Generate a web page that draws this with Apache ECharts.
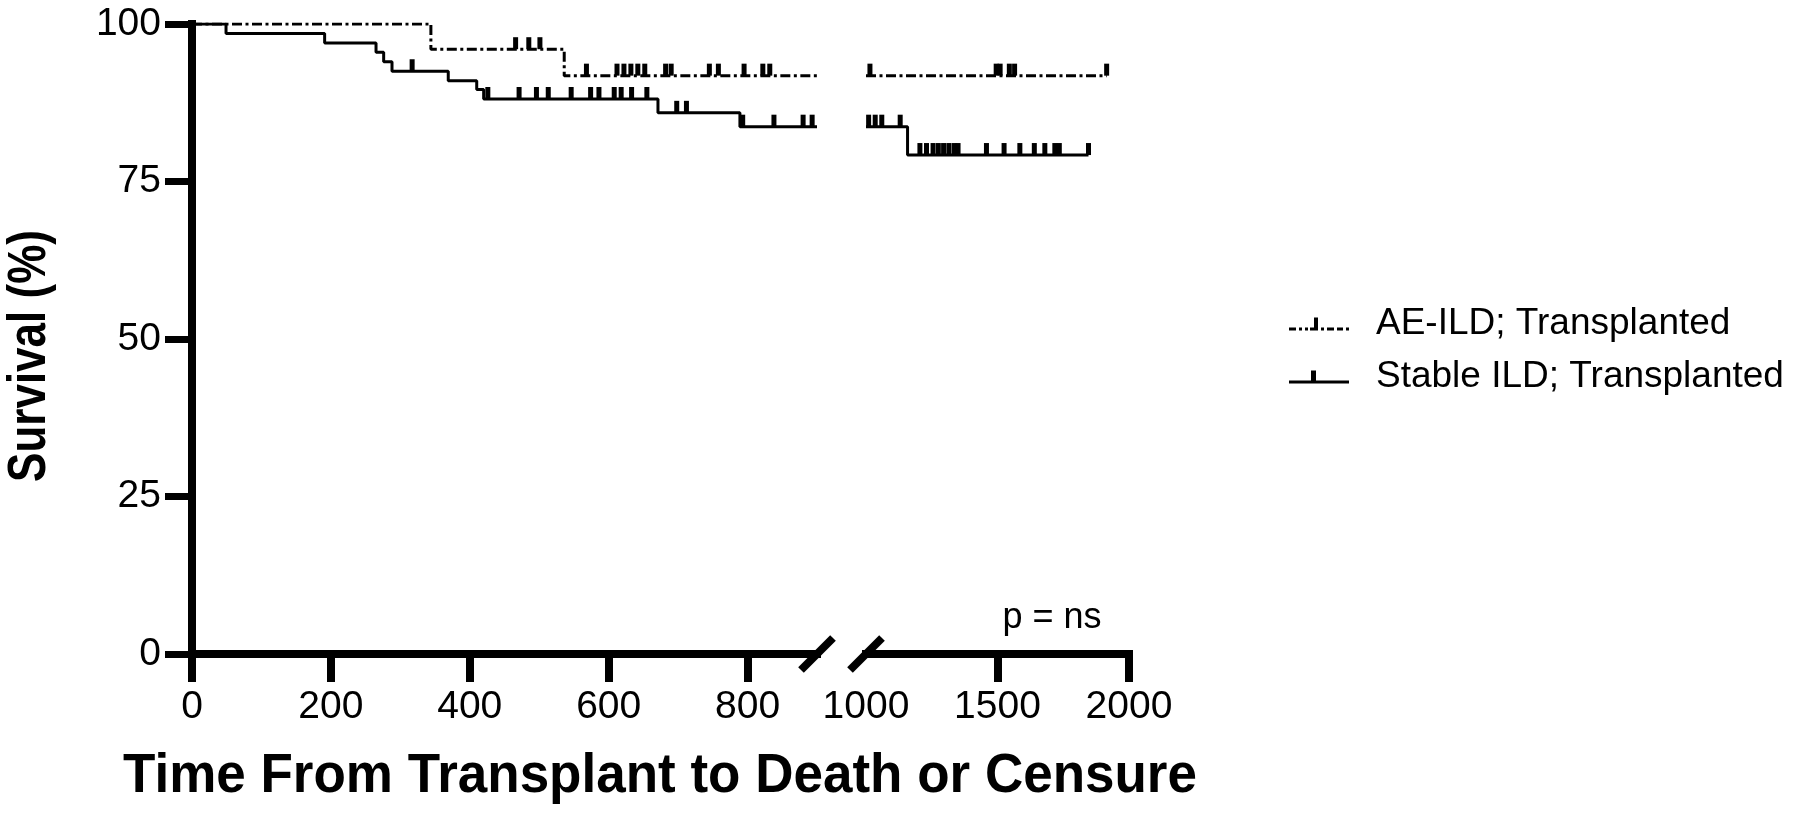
<!DOCTYPE html>
<html><head><meta charset="utf-8">
<script src="https://cdn.jsdelivr.net/npm/echarts@6/dist/echarts.min.js"></script>
<style>html,body{margin:0;padding:0;background:#fff;}#c{width:1800px;height:813px;}</style>
</head><body><div id="c"></div>
<script>
const FONT = '"Liberation Sans", Arial, Helvetica, sans-serif';
const seriesNames = ['AE-ILD; Transplanted', 'Stable ILD; Transplanted'];
const yTicks = [0, 25, 50, 75, 100];
const xTicksLeft = [0, 200, 400, 600, 800];
const xLabelsRight = [1000, 1500, 2000];
const xTickMarksRight = [1500, 2000];
const xTitle = 'Time From Transplant to Death or Censure';
const yTitle = 'Survival (%)';
const pText = 'p = ns';

// Kaplan-Meier step points [day, survival %]
const aeLeft = [[0, 100], [344, 96.0], [536, 91.8], [900, 91.8]];
const aeRight = [[1000, 91.8], [1915, 91.8]];
const stableLeft = [[0, 100], [49, 98.5], [191, 97.0], [265, 95.5], [276, 94.0], [288, 92.5], [369, 91.0], [410, 89.6], [420, 88.1], [671, 85.9], [789, 83.7], [900, 83.7]];
const stableRight = [[1000, 83.7], [1158, 79.2], [1846, 79.2]];

// censored observations [day, survival %]
const aeCensLeft = [[466, 96.0], [485, 96.0], [501, 96.0],
  [568, 91.8], [612, 91.8], [622, 91.8], [632, 91.8], [642, 91.8], [652, 91.8], [682, 91.8], [690, 91.8],
  [745, 91.8], [758, 91.8], [795, 91.8], [822, 91.8], [832, 91.8]];
const aeCensRight = [[1015, 91.8], [1495, 91.8], [1510, 91.8], [1545, 91.8], [1565, 91.8], [1915, 91.8]];
const stableCensLeft = [[317, 92.5],
  [426, 88.1], [471, 88.1], [496, 88.1], [513, 88.1], [546, 88.1], [574, 88.1], [586, 88.1], [608, 88.1], [618, 88.1], [633, 88.1], [655, 88.1],
  [698, 85.9], [712, 85.9],
  [793, 83.7], [838, 83.7], [880, 83.7], [893, 83.7]];
const stableCensRight = [[1010, 83.7], [1035, 83.7], [1060, 83.7], [1130, 83.7],
  [1205, 79.2], [1230, 79.2], [1255, 79.2], [1275, 79.2], [1295, 79.2], [1315, 79.2], [1335, 79.2], [1350, 79.2],
  [1458, 79.2], [1525, 79.2], [1585, 79.2], [1640, 79.2], [1680, 79.2], [1718, 79.2], [1735, 79.2], [1846, 79.2]];

const AE_ICON = 'path://M0,10h7v3h-7z M10,10h3v3h-3z M16,10h3v3h-3z M21,10h8v3h-8z M25,0h4v10h-4z M32,10h3v3h-3z M38,10h7v3h-7z M48,10h6v3h-6z M57,10h3v3h-3z';
const ST_ICON = 'path://M0,10h60v3h-60z M22,0h5v10h-5z';

const chart = echarts.init(document.getElementById('c'), null, {renderer: 'canvas'});
const axisLineStyle = {color: '#000', width: 8, cap: 'square'};
const labelStyle = {fontSize: 39, color: '#000', fontFamily: FONT, formatter: (v) => String(v)};
const dashDot = [10, 3.5, 3, 3.5];

function stepLine(name, data, xi, dashed) {
  return {type: 'line', name, data, xAxisIndex: xi, yAxisIndex: xi, step: 'end', symbol: 'none',
    silent: true, z: 3, itemStyle: {color: '#000'},
    lineStyle: {color: '#000', width: 3, type: dashed ? dashDot : 'solid'}};
}
function censor(name, data, xi) {
  return {type: 'scatter', name, data, xAxisIndex: xi, yAxisIndex: xi, symbol: 'rect',
    symbolSize: [5, 12], symbolOffset: [0, -6], silent: true, z: 4,
    itemStyle: {color: '#000', opacity: 1, borderWidth: 0}};
}

const option = {
  animation: false,
  backgroundColor: '#fff',
  grid: [
    {left: 192, right: 983, top: 24, bottom: 159},
    {left: 866, right: 671, top: 24, bottom: 159}
  ],
  xAxis: [
    {type: 'value', gridIndex: 0, min: 0, max: 900,
      axisLine: {show: true, lineStyle: axisLineStyle},
      axisTick: {show: true, length: 28, customValues: xTicksLeft, lineStyle: {color: '#000', width: 8}},
      axisLabel: Object.assign({margin: 34, customValues: xTicksLeft}, labelStyle),
      splitLine: {show: false}},
    {type: 'value', gridIndex: 1, min: 1000, max: 2000, interval: 500,
      axisLine: {show: true, lineStyle: axisLineStyle},
      axisTick: {show: true, length: 28, customValues: xTickMarksRight, lineStyle: {color: '#000', width: 8}},
      axisLabel: Object.assign({margin: 34, customValues: xLabelsRight}, labelStyle),
      splitLine: {show: false}}
  ],
  yAxis: [
    {type: 'value', gridIndex: 0, min: 0, max: 100, interval: 25,
      axisLine: {show: true, lineStyle: axisLineStyle},
      axisTick: {show: true, length: 27, customValues: yTicks, lineStyle: {color: '#000', width: 7}},
      axisLabel: Object.assign({margin: 31, customValues: yTicks}, labelStyle),
      splitLine: {show: false}},
    {type: 'value', gridIndex: 1, min: 0, max: 100, show: false, splitLine: {show: false}}
  ],
  legend: {
    orient: 'vertical', left: 1284, top: 297, itemWidth: 60, itemHeight: 13, itemGap: 9,
    selectedMode: false,
    itemStyle: {color: '#000', borderWidth: 0, opacity: 1},
    textStyle: {fontSize: 37, color: '#000', fontFamily: FONT, lineHeight: 44, padding: [0, 0, 0, 22]},
    data: [{name: seriesNames[0], icon: AE_ICON}, {name: seriesNames[1], icon: ST_ICON}]
  },
  series: [
    stepLine(seriesNames[0], aeLeft, 0, true),
    stepLine(seriesNames[0], aeRight, 1, true),
    stepLine(seriesNames[1], stableLeft, 0, false),
    stepLine(seriesNames[1], stableRight, 1, false),
    censor(seriesNames[0], aeCensLeft, 0),
    censor(seriesNames[0], aeCensRight, 1),
    censor(seriesNames[1], stableCensLeft, 0),
    censor(seriesNames[1], stableCensRight, 1)
  ]
};
chart.setOption(option);

const pL = chart.convertToPixel({xAxisIndex: 0, yAxisIndex: 0}, [900, 0]);
const pR = chart.convertToPixel({xAxisIndex: 1, yAxisIndex: 1}, [1000, 0]);
const slash = (p) => ({type: 'line', z: 10, shape: {x1: p[0] - 16, y1: p[1] + 16, x2: p[0] + 16, y2: p[1] - 16},
  style: {stroke: '#000', lineWidth: 8}});
chart.setOption({
  graphic: [
    slash(pL), slash(pR),
    {type: 'text', x: 30, y: 356, rotation: Math.PI / 2, scaleY: 1.2, z: 10,
      style: {text: yTitle, font: 'bold 44px ' + FONT, fill: '#000', textAlign: 'center', textVerticalAlign: 'middle'}},
    {type: 'text', x: 660, y: 777, scaleY: 1.06, z: 10,
      style: {text: xTitle, font: 'bold 53px ' + FONT, fill: '#000', textAlign: 'center', textVerticalAlign: 'middle'}},
    {type: 'text', x: 1052, y: 618, z: 10,
      style: {text: pText, font: '36px ' + FONT, fill: '#000', textAlign: 'center', textVerticalAlign: 'middle'}}
  ]
});
</script></body></html>
